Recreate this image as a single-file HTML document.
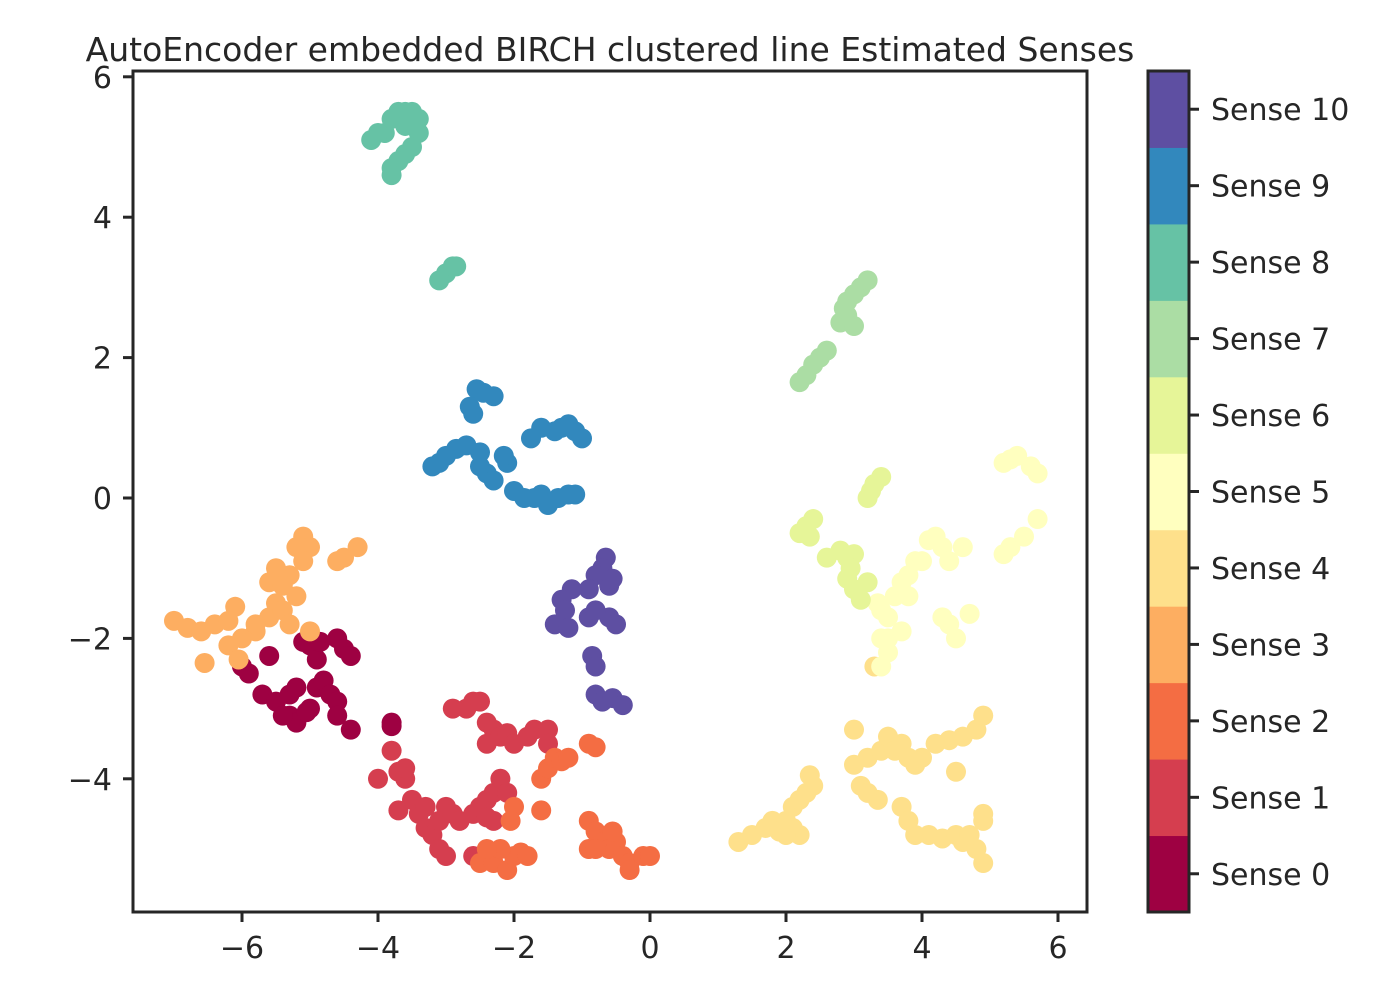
<!DOCTYPE html>
<html><head><meta charset="utf-8">
<style>
html,body{margin:0;padding:0;background:#fff;}
svg{display:block;font-family:"DejaVu Sans","Liberation Sans",sans-serif;}
</style></head>
<body>
<svg id="chart" width="1400" height="1000" xmlns="http://www.w3.org/2000/svg">
<text x="610" y="61" font-size="33" text-anchor="middle" fill="#262626">AutoEncoder embedded BIRCH clustered line Estimated Senses</text>
<g id="points"></g>
<rect x="133" y="71" width="954" height="841" fill="none" stroke="#262626" stroke-width="3"/>
<g id="xticks"></g>
<g id="yticks"></g>
<g id="cbar"></g>
</svg>
<script>
const xTicks=[-6,-4,-2,0,2,4,6];
const yTicks=[-4,-2,0,2,4,6];
const senseLabels=["Sense 0","Sense 1","Sense 2","Sense 3","Sense 4","Sense 5","Sense 6","Sense 7","Sense 8","Sense 9","Sense 10"];
const senseColors=["#9e0142","#d53e4f","#f46d43","#fdae61","#fee08b","#ffffbf","#e6f598","#abdda4","#66c2a5","#3288bd","#5e4fa2"];
const sense0=[[-6.0,-2.4],[-5.9,-2.5],[-5.7,-2.8],[-5.5,-2.9],[-5.3,-2.8],[-5.2,-2.7],[-5.3,-3.1],[-5.2,-3.2],[-5.0,-3.0],[-4.9,-2.7],[-4.8,-2.6],[-4.7,-2.8],[-4.6,-2.9],[-4.6,-3.1],[-4.4,-3.3],[-5.0,-2.1],[-4.9,-2.3],[-4.6,-2.0],[-4.5,-2.15],[-4.4,-2.25],[-5.6,-2.25],[-5.1,-2.05],[-4.85,-2.05],[-3.8,-3.25],[-3.8,-3.2],[-5.05,-3.05],[-5.4,-3.1]];
const sense1=[[-4.0,-4.0],[-3.8,-3.6],[-3.7,-3.9],[-3.6,-4.0],[-3.6,-3.85],[-3.5,-4.3],[-3.4,-4.5],[-3.3,-4.7],[-3.2,-4.8],[-3.1,-5.0],[-3.0,-5.1],[-3.1,-4.6],[-3.0,-4.4],[-2.9,-4.5],[-2.8,-4.6],[-2.6,-4.5],[-2.5,-4.4],[-2.4,-4.3],[-2.3,-4.2],[-2.2,-4.0],[-2.1,-4.2],[-2.6,-5.1],[-2.3,-4.6],[-2.9,-3.0],[-2.7,-3.0],[-2.6,-2.9],[-2.5,-2.9],[-2.4,-3.2],[-2.3,-3.3],[-2.2,-3.4],[-2.1,-3.35],[-2.0,-3.5],[-1.8,-3.4],[-1.7,-3.3],[-1.5,-3.3],[-1.5,-3.5],[-2.4,-3.5],[-3.7,-4.45],[-3.3,-4.4],[-2.4,-4.55]];
const sense2=[[-2.5,-5.2],[-2.3,-5.2],[-2.1,-5.3],[-2.0,-5.1],[-1.9,-5.05],[-1.8,-5.1],[-2.2,-5.0],[-2.4,-5.0],[-2.0,-4.4],[-2.05,-4.6],[-1.6,-4.0],[-1.5,-3.85],[-1.4,-3.7],[-1.3,-3.75],[-1.2,-3.7],[-1.6,-4.45],[-0.9,-3.5],[-0.8,-3.55],[-0.9,-4.6],[-0.8,-4.75],[-0.7,-4.9],[-0.6,-5.0],[-0.5,-4.9],[-0.4,-5.1],[-0.3,-5.2],[-0.1,-5.1],[0.0,-5.1],[-0.55,-4.75],[-0.9,-5.0],[-0.8,-5.0],[-0.3,-5.3]];
const sense3=[[-7.0,-1.75],[-6.8,-1.85],[-6.6,-1.9],[-6.4,-1.8],[-6.2,-2.1],[-6.0,-2.0],[-6.1,-1.55],[-6.05,-2.3],[-6.55,-2.35],[-5.8,-1.9],[-5.6,-1.7],[-5.5,-1.5],[-5.4,-1.6],[-5.3,-1.8],[-5.2,-1.4],[-5.2,-0.7],[-5.1,-0.55],[-5.0,-0.7],[-5.3,-1.1],[-5.5,-1.0],[-5.6,-1.2],[-5.0,-1.9],[-4.6,-0.9],[-4.5,-0.85],[-4.3,-0.7],[-5.1,-0.9],[-5.8,-1.8],[-6.2,-1.75],[-5.4,-1.25]];
const sense4=[[1.3,-4.9],[1.5,-4.8],[1.7,-4.7],[1.8,-4.6],[2.0,-4.6],[2.1,-4.4],[2.2,-4.3],[2.3,-4.2],[2.4,-4.1],[2.35,-3.95],[2.2,-4.8],[2.1,-4.7],[2.0,-4.8],[1.9,-4.75],[3.0,-3.3],[3.0,-3.8],[3.2,-3.7],[3.4,-3.6],[3.5,-3.4],[3.6,-3.6],[3.7,-3.5],[3.8,-3.7],[3.9,-3.8],[4.0,-3.7],[3.1,-4.1],[3.2,-4.2],[3.35,-4.3],[3.7,-4.4],[3.8,-4.6],[3.9,-4.8],[4.1,-4.8],[4.3,-4.85],[4.5,-4.8],[4.6,-4.9],[4.8,-5.0],[4.9,-5.2],[4.9,-4.6],[4.9,-4.5],[4.7,-4.8],[4.2,-3.5],[4.4,-3.45],[4.6,-3.4],[4.8,-3.3],[4.9,-3.1],[4.5,-3.9],[3.3,-2.4]];
const sense5=[[3.35,-1.5],[3.4,-1.6],[3.5,-1.7],[3.6,-1.4],[3.7,-1.2],[3.8,-1.1],[3.9,-0.9],[3.8,-1.4],[3.4,-2.0],[3.5,-2.2],[3.4,-2.4],[3.5,-2.0],[3.7,-1.9],[4.0,-0.9],[4.1,-0.6],[4.2,-0.55],[4.3,-0.7],[4.4,-0.9],[4.6,-0.7],[4.3,-1.7],[4.4,-1.8],[4.5,-2.0],[4.7,-1.65],[5.2,-0.8],[5.3,-0.7],[5.5,-0.55],[5.7,-0.3],[5.3,0.55],[5.4,0.6],[5.6,0.45],[5.7,0.35],[5.2,0.5]];
const sense6=[[2.2,-0.5],[2.3,-0.4],[2.4,-0.3],[2.35,-0.55],[2.6,-0.85],[2.8,-0.75],[2.9,-0.85],[2.9,-1.15],[3.0,-1.3],[3.1,-1.45],[3.2,-1.2],[3.0,-0.8],[3.2,0.0],[3.3,0.2],[3.4,0.3],[3.25,0.1],[2.95,-1.0]];
const sense7=[[2.2,1.65],[2.3,1.75],[2.4,1.9],[2.5,2.0],[2.6,2.1],[2.8,2.5],[2.9,2.6],[2.9,2.8],[3.0,2.9],[3.1,3.0],[3.2,3.1],[3.0,2.45],[2.85,2.7]];
const sense8=[[-3.9,5.2],[-3.8,5.4],[-3.7,5.5],[-3.6,5.5],[-3.5,5.5],[-3.4,5.4],[-3.4,5.2],[-3.5,5.0],[-3.6,4.9],[-3.7,4.8],[-3.8,4.7],[-3.8,4.6],[-4.0,5.2],[-4.1,5.1],[-3.6,5.3],[-3.1,3.1],[-3.0,3.2],[-2.9,3.3],[-2.85,3.3]];
const sense9=[[-2.55,1.55],[-2.45,1.5],[-2.3,1.45],[-2.6,1.2],[-2.65,1.3],[-2.7,0.75],[-2.85,0.7],[-3.0,0.6],[-3.1,0.5],[-3.2,0.45],[-2.5,0.65],[-2.5,0.45],[-2.4,0.35],[-2.3,0.25],[-2.1,0.5],[-2.15,0.6],[-2.0,0.1],[-1.85,0.0],[-1.7,0.0],[-1.6,0.05],[-1.5,-0.1],[-1.35,0.0],[-1.2,0.05],[-1.1,0.05],[-1.75,0.85],[-1.6,1.0],[-1.4,0.95],[-1.3,1.0],[-1.2,1.05],[-1.1,0.95],[-1.0,0.85]];
const sense10=[[-0.65,-0.85],[-0.7,-1.0],[-0.8,-1.1],[-0.9,-1.3],[-1.15,-1.3],[-1.3,-1.45],[-1.25,-1.6],[-1.4,-1.8],[-1.2,-1.85],[-0.9,-1.7],[-0.6,-1.7],[-0.5,-1.8],[-0.8,-1.6],[-0.85,-2.25],[-0.8,-2.4],[-0.8,-2.8],[-0.7,-2.9],[-0.55,-2.85],[-0.4,-2.95],[-0.6,-1.25],[-0.55,-1.15]];
const allSenses=[sense0,sense1,sense2,sense3,sense4,sense5,sense6,sense7,sense8,sense9,sense10];

const NS="http://www.w3.org/2000/svg";
const xs=v=>650+v*68;
const ys=v=>498-v*70.2;
function mk(tag,attrs,parent){const e=document.createElementNS(NS,tag);for(const k in attrs)e.setAttribute(k,attrs[k]);parent.appendChild(e);return e;}

const pts=document.getElementById('points');
allSenses.forEach((arr,si)=>{
  const g=mk('g',{},pts);
  
  
  arr.forEach(p=>{
    const c=mk('circle',{cx:xs(p[0]),cy:ys(p[1]),r:10,fill:senseColors[si]},g);
    
    
  });
});

const xg=document.getElementById('xticks');
xTicks.forEach(t=>{
  const x=xs(t);
  const l=mk('line',{x1:x,x2:x,y1:912,y2:922,stroke:'#262626','stroke-width':3},xg);
  
  
  const tx=mk('text',{x:x,y:958,'font-size':30,'text-anchor':'middle',fill:'#262626'},xg);
  
  
  tx.textContent=(t<0?'\u2212'+(-t):String(t));
});
const yg=document.getElementById('yticks');
yTicks.forEach(t=>{
  const y=ys(t);
  const l=mk('line',{x1:123,x2:133,y1:y,y2:y,stroke:'#262626','stroke-width':3},yg);
  
  
  const tx=mk('text',{x:112,y:y+11,'font-size':30,'text-anchor':'end',fill:'#262626'},yg);
  
  
  tx.textContent=(t<0?'\u2212'+(-t):String(t));
});

const cb=document.getElementById('cbar');
const cbTop=71,cbBot=912,cbX=1148,cbW=41,n=senseLabels.length,seg=(cbBot-cbTop)/n;
senseLabels.forEach((lab,i)=>{
  const y0=cbBot-(i+1)*seg;
  const r=mk('rect',{x:cbX,y:y0,width:cbW,height:seg+0.5,fill:senseColors[i]},cb);
  
  
  const yc=y0+seg/2;
  const l=mk('line',{x1:cbX+cbW,x2:cbX+cbW+10,y1:yc,y2:yc,stroke:'#262626','stroke-width':3},cb);
  
  
  const tx=mk('text',{x:1211,y:yc+11,'font-size':30,fill:'#262626'},cb);
  
  
  tx.textContent=lab;
});
const fr=mk('rect',{x:cbX,y:cbTop,width:cbW,height:cbBot-cbTop,fill:'none',stroke:'#262626','stroke-width':3},cb);


</script>
</body></html>
